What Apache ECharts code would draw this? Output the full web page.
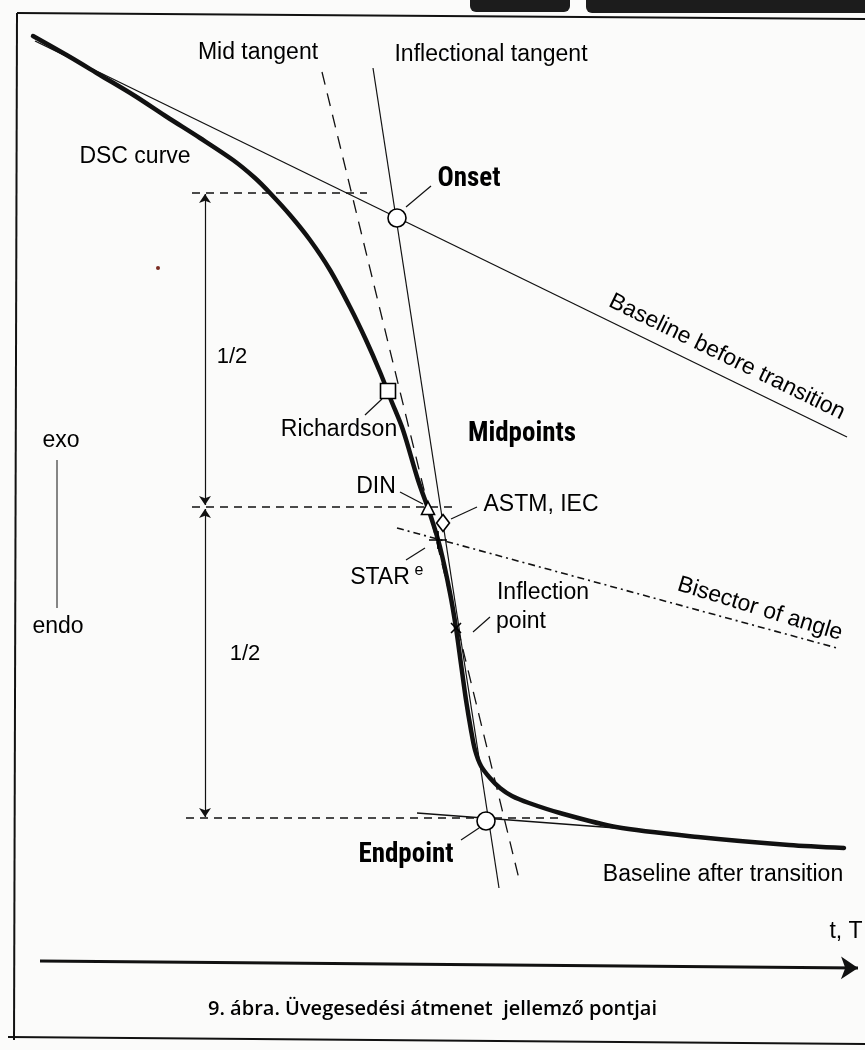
<!DOCTYPE html>
<html>
<head>
<meta charset="utf-8">
<script src="https://cdn.jsdelivr.net/npm/echarts@6/dist/echarts.min.js"></script>
<style>
    html, body { margin: 0; padding: 0; background: #fbfbfa; }
    #myChart { width: 865px; height: 1050px; }
</style>
</head>
<body>
<div id="myChart"></div>
<script>
    // DSC curve (x to the right, y downwards)
    var dscX = [33, 70, 100, 135, 167, 200, 233, 255, 270, 290, 310, 330, 350, 366, 380, 391, 403, 418, 431, 440, 450, 456, 461, 466, 471, 475, 481, 490, 500, 512, 529, 560, 616, 698, 789, 844];
    var dscY = [36, 57, 75, 96, 117, 138, 160, 178, 193, 215, 240, 270, 307, 340, 372, 400, 430, 480, 517, 547, 593, 628, 664, 700, 730, 750, 766, 778, 788, 796, 803, 813, 827, 837, 845, 848];

    // construction lines [x1, y1, x2, y2]
    var baselineBefore = [35, 41, 847, 437];
    var baselineAfter = [417, 813, 616, 828];
    var midTangent = [322, 72, 520, 883];
    var inflTangent = [373, 68, 499, 888];
    var bisector = [397, 528, 837, 648];
    var exoEndo = [57, 460, 57, 608];
    var timeAxis = [40, 961, 858, 968];

    // dashed levels: onset, midpoint, endpoint
    var levelY = [193, 507, 818];
    var levelFrom = [192, 192, 186];
    var levelTo = [367, 452, 559];

    // marked characteristic points
    var pointNames = ['Onset', 'Richardson', 'DIN', 'ASTM, IEC', 'STAR', 'Inflection point', 'Endpoint'];
    var pointX = [397, 388, 428, 443, 438, 456, 486];
    var pointY = [218, 391, 508, 523, 540, 628, 821];

    var ink = '#111';
    var regular = "'Liberation Sans', Arial, sans-serif";
    var narrow = "'Liberation Sans Narrow', 'Roboto Condensed', 'DejaVu Sans Condensed', sans-serif";

    function seg(p, width, dash, z) {
        return {
            type: 'line',
            data: [[p[0], p[1]], [p[2], p[3]]],
            showSymbol: false,
            symbol: 'none',
            silent: true,
            z: z || 2,
            lineStyle: { color: ink, width: width, type: dash || 'solid' }
        };
    }

    var series = [];

    // frame of the scanned figure
    series.push(seg([17, 13, 14, 1040], 2));
    series.push(seg([17, 13, 865, 19], 2));
    series.push(seg([8, 1037, 865, 1044], 2));

    series.push(seg(baselineBefore, 1.3));
    series.push(seg(baselineAfter, 1.3));
    series.push(seg(inflTangent, 1.2));
    series.push(seg(midTangent, 1.3, [13, 9]));
    series.push(seg(bisector, 1.6, [7, 4, 2, 4]));
    series.push(seg(exoEndo, 1));
    for (var i = 0; i < levelY.length; i++) {
        series.push(seg([levelFrom[i], levelY[i], levelTo[i], levelY[i]], 1.6, [8, 6]));
    }

    // DSC curve
    series.push({
        type: 'line',
        data: dscX.map(function (x, k) { return [x, dscY[k]]; }),
        smooth: 0.3,
        showSymbol: false,
        symbol: 'none',
        z: 4,
        lineStyle: { color: ink, width: 4.5, cap: 'round' }
    });

    // 1/2 double arrows and time axis arrow
    series.push({
        type: 'lines',
        coordinateSystem: 'cartesian2d',
        symbol: ['arrow', 'arrow'],
        symbolSize: 9,
        z: 3,
        lineStyle: { color: ink, width: 1.2, opacity: 1 },
        data: [
            { coords: [[205, levelY[0] + 1], [205, levelY[1] - 2]] },
            { coords: [[205, levelY[1] + 2], [205, levelY[2] - 1]] }
        ]
    });
    series.push({
        type: 'lines',
        coordinateSystem: 'cartesian2d',
        symbol: ['none', 'arrow'],
        symbolSize: 17,
        z: 3,
        lineStyle: { color: ink, width: 3, opacity: 1 },
        data: [{ coords: [[timeAxis[0], timeAxis[1]], [timeAxis[2], timeAxis[3]]] }]
    });

    // leader lines from labels to points
    series.push({
        type: 'lines',
        coordinateSystem: 'cartesian2d',
        z: 3,
        lineStyle: { color: ink, width: 1.2, opacity: 1 },
        data: [
            { coords: [[431, 186], [406, 207]] },
            { coords: [[365, 415], [382, 399]] },
            { coords: [[400, 492], [423, 504]] },
            { coords: [[451, 519], [477, 507]] },
            { coords: [[406, 560], [425, 548]] },
            { coords: [[473, 632], [490, 617]] },
            { coords: [[461, 840], [479, 828]] }
        ]
    });

    // markers
    var symbols = ['circle', 'rect', 'triangle', 'diamond',
        'path://M5,0L5,10M0,5L10,5', 'path://M0,0L10,10M10,0L0,10', 'circle'];
    var sizes = [18, 15, 13, [13, 17], 18, 10, 18];
    series.push({
        type: 'scatter',
        z: 6,
        data: pointNames.map(function (n, k) {
            var open = symbols[k].indexOf('path') === 0;
            return {
                name: n,
                value: [pointX[k], pointY[k]],
                symbol: symbols[k],
                symbolSize: sizes[k],
                itemStyle: {
                    color: open ? 'none' : '#fff',
                    borderColor: '#000',
                    borderWidth: 1.6,
                    opacity: 1
                }
            };
        })
    });

    // text annotations
    var notes = [
        { t: 'Mid tangent', x: 258, y: 53 },
        { t: 'Inflectional tangent', x: 491, y: 55 },
        { t: 'DSC curve', x: 135, y: 157 },
        { t: 'Onset', x: 469, y: 179, b: true },
        { t: 'Baseline before transition', x: 727, y: 357, r: -26 },
        { t: '1/2', x: 232, y: 357, s: 22 },
        { t: 'Richardson', x: 339, y: 430 },
        { t: 'Midpoints', x: 522, y: 434, b: true },
        { t: 'exo', x: 61, y: 441 },
        { t: 'DIN', x: 376, y: 487 },
        { t: 'ASTM, IEC', x: 541, y: 505 },
        { t: 'STAR', x: 380, y: 578 },
        { t: 'e', x: 419, y: 571, s: 16 },
        { t: 'Bisector of angle', x: 760, y: 609, r: -17 },
        { t: 'Inflection', x: 543, y: 593 },
        { t: 'point', x: 521, y: 622 },
        { t: 'endo', x: 58, y: 627 },
        { t: '1/2', x: 245, y: 654, s: 22 },
        { t: 'Endpoint', x: 406, y: 855, b: true },
        { t: 'Baseline after transition', x: 723, y: 875 },
        { t: 't, T', x: 846, y: 932 }
    ];
    series.push({
        type: 'scatter',
        z: 7,
        symbolSize: 1,
        itemStyle: { color: 'rgba(0,0,0,0)', opacity: 1 },
        data: notes.map(function (n) {
            return {
                name: n.t,
                value: [n.x, n.y],
                label: {
                    show: true,
                    position: 'inside',
                    formatter: '{b}',
                    color: '#000',
                    opacity: 1,
                    rotate: n.r || 0,
                    fontFamily: n.b ? narrow : regular,
                    fontWeight: n.b ? 'bold' : 'normal',
                    fontSize: n.s || (n.b ? 27 : 23)
                }
            };
        })
    });

    var options = {
        backgroundColor: '#fbfbfa',
        animation: false,
        grid: { left: 0, right: 0, top: 0, bottom: 0 },
        xAxis: { type: 'value', min: 0, max: 865, show: false },
        yAxis: { type: 'value', min: 0, max: 1050, inverse: true, show: false },
        graphic: [
            { type: 'rect', shape: { x: 470, y: -6, width: 100, height: 18, r: 6 }, style: { fill: '#1c1c1c' } },
            { type: 'rect', shape: { x: 586, y: -6, width: 290, height: 19, r: 6 }, style: { fill: '#1c1c1c' } },
            { type: 'circle', shape: { cx: 158, cy: 268, r: 2 }, style: { fill: '#7a2b22' } },
            {
                type: 'text', left: 'center', top: 999,
                style: {
                    text: '9. ábra. Üvegesedési átmenet  jellemző pontjai',
                    fill: '#000', font: "600 20px 'Open Sans', sans-serif"
                }
            }
        ],
        series: series
    };

    var myChart = echarts.init(document.getElementById('myChart'));
    myChart.setOption(options);
</script>
</body>
</html>
